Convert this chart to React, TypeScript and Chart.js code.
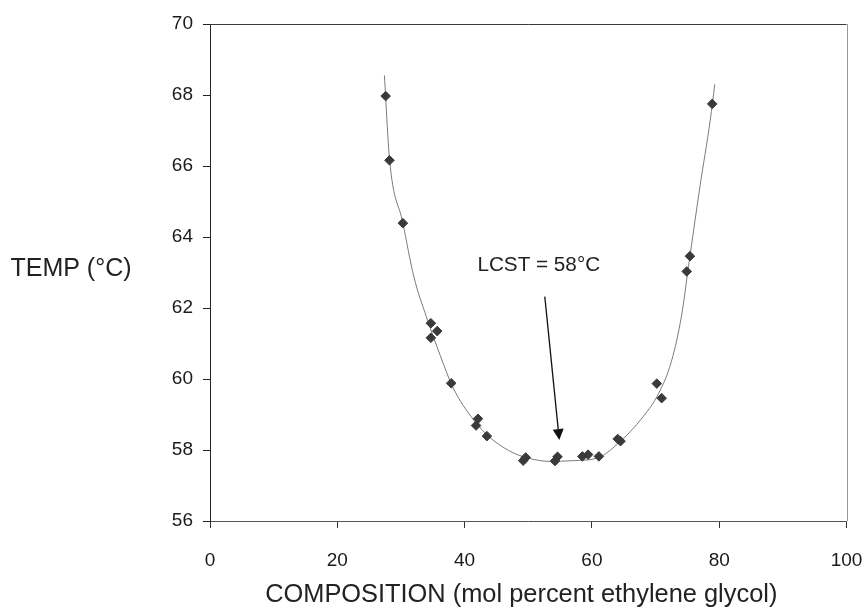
import React, { useEffect, useRef } from "react";
import { Chart, registerables } from "chart.js";

Chart.register(...registerables);

// ---- Data ----
const X_MIN = 0;
const X_MAX = 100;
const X_STEP = 20;
const Y_MIN = 56;
const Y_MAX = 70;
const Y_STEP = 2;

const X_TITLE = "COMPOSITION (mol percent ethylene glycol)";
const Y_TITLE = "TEMP (\u00B0C)";
const NOTE_TEXT = "LCST = 58\u00B0C";

// measured points: composition (mol %) and temperature (°C)
const compX = [
  27.6, 28.2, 30.3, 34.7, 35.7, 34.7, 37.9, 42.1, 41.8, 43.5, 49.6, 49.2,
  54.6, 54.2, 58.5, 59.4, 61.1, 64.05, 64.5, 70.2, 70.96, 74.9, 75.4, 78.9,
];
const tempY = [
  67.97, 66.16, 64.39, 61.57, 61.35, 61.16, 59.88, 58.88, 58.69, 58.39, 57.79,
  57.7, 57.81, 57.69, 57.82, 57.87, 57.82, 58.31, 58.25, 59.87, 59.46, 63.03,
  63.46, 67.75,
];

// fitted curve
const curveX = [
  27.4, 28.2, 30.3, 32.0, 34.0, 36.2, 38.2, 41.4, 44.0, 47.1, 49.8, 53.4, 57.1,
  60.8, 63.9, 68.1, 70.5, 72.5, 74.1, 75.2, 77.0, 78.6, 79.3,
];
const curveY = [
  68.55, 66.2, 64.4, 62.9, 61.75, 60.65, 59.75, 58.85, 58.35, 57.97, 57.78,
  57.68, 57.7, 57.77, 58.15, 58.95, 59.6, 60.5, 61.8, 63.2, 65.45, 67.3, 68.3,
];

// annotation (data coordinates)
const NOTE_POS = [51.65, 63.2];
const ARROW_FROM = [52.6, 62.32];
const ARROW_TO = [54.88, 58.28];

const FONT = "'Liberation Sans', Arial, Helvetica, sans-serif";

const pointsData = compX.map((x, i) => ({ x, y: tempY[i] }));
const curveData = curveX.map((x, i) => ({ x, y: curveY[i] }));

const decorPlugin = {
  id: "decor",
  afterDatasetsDraw(chart: any) {
    const { ctx, chartArea, scales } = chart;
    const xs = scales.x;
    const ys = scales.y;
    ctx.save();
    // frame: top and right borders
    ctx.lineWidth = 1;
    ctx.strokeStyle = "#3a3a3a";
    ctx.beginPath();
    ctx.moveTo(chartArea.left, Math.round(chartArea.top) + 0.5);
    ctx.lineTo(chartArea.right, Math.round(chartArea.top) + 0.5);
    ctx.stroke();
    ctx.strokeStyle = "#9a9a9a";
    ctx.beginPath();
    ctx.moveTo(Math.round(chartArea.right) + 0.5, chartArea.top);
    ctx.lineTo(Math.round(chartArea.right) + 0.5, chartArea.bottom);
    ctx.stroke();

    // annotation arrow
    const x1 = xs.getPixelForValue(ARROW_FROM[0]);
    const y1 = ys.getPixelForValue(ARROW_FROM[1]);
    const x2 = xs.getPixelForValue(ARROW_TO[0]);
    const y2 = ys.getPixelForValue(ARROW_TO[1]);
    const ang = Math.atan2(y2 - y1, x2 - x1);
    const headLen = 11;
    const headHalf = 5.5;
    const bx = x2 - Math.cos(ang) * headLen;
    const by = y2 - Math.sin(ang) * headLen;
    ctx.strokeStyle = "#111";
    ctx.lineWidth = 1.3;
    ctx.beginPath();
    ctx.moveTo(x1, y1);
    ctx.lineTo(bx, by);
    ctx.stroke();
    ctx.fillStyle = "#111";
    ctx.beginPath();
    ctx.moveTo(x2, y2);
    ctx.lineTo(bx + Math.sin(ang) * headHalf, by - Math.cos(ang) * headHalf);
    ctx.lineTo(bx - Math.sin(ang) * headHalf, by + Math.cos(ang) * headHalf);
    ctx.closePath();
    ctx.fill();

    // annotation text
    ctx.fillStyle = "#222";
    ctx.font = `20.7px ${FONT}`;
    ctx.textAlign = "center";
    ctx.textBaseline = "middle";
    ctx.fillText(
      NOTE_TEXT,
      xs.getPixelForValue(NOTE_POS[0]),
      ys.getPixelForValue(NOTE_POS[1])
    );

    // axis titles
    ctx.font = `25px ${FONT}`;
    ctx.fillStyle = "#222";
    ctx.textAlign = "center";
    ctx.fillText(Y_TITLE, 71, (chartArea.top + chartArea.bottom) / 2 - 3);
    ctx.font = `25.4px ${FONT}`;
    ctx.fillText(X_TITLE, (chartArea.left + chartArea.right) / 2 - 7, chartArea.bottom + 74);
    ctx.restore();
  },
};

export default function App() {
  const canvasRef = useRef<HTMLCanvasElement | null>(null);

  useEffect(() => {
    if (!canvasRef.current) return;
    const chart = new Chart(canvasRef.current, {
      type: "scatter",
      data: {
        datasets: [
          {
            label: "data",
            data: pointsData,
            showLine: false,
            pointStyle: "rectRot",
            pointRadius: 4.8,
            pointBackgroundColor: "#3a3a3a",
            pointBorderColor: "#3a3a3a",
            pointBorderWidth: 1,
            order: 0,
          },
          {
            label: "fit",
            data: curveData,
            showLine: true,
            pointRadius: 0,
            borderColor: "#7a7a7a",
            borderWidth: 1,
            cubicInterpolationMode: "monotone",
            fill: false,
            order: 1,
          },
        ],
      },
      options: {
        animation: false,
        responsive: false,
        layout: { padding: { top: 24, right: 17.5, left: 0, bottom: 0 } },
        plugins: {
          legend: { display: false },
          tooltip: { enabled: false },
          title: { display: false },
        },
        scales: {
          x: {
            type: "linear",
            min: X_MIN,
            max: X_MAX,
            afterFit: (s: any) => {
              s.height = 90;
              s.paddingRight = 0;
              s.paddingLeft = 0;
            },
            ticks: {
              stepSize: X_STEP,
              color: "#1a1a1a",
              font: { family: FONT, size: 19 },
              padding: 21,
              maxRotation: 0,
            },
            grid: {
              drawOnChartArea: false,
              drawTicks: true,
              tickLength: 7,
              color: "#333",
            },
            border: { color: "#555", width: 1 },
          },
          y: {
            type: "linear",
            min: Y_MIN,
            max: Y_MAX,
            afterFit: (s: any) => {
              s.width = 210;
              s.paddingTop = 0;
              s.paddingBottom = 0;
            },
            ticks: {
              stepSize: Y_STEP,
              color: "#1a1a1a",
              font: { family: FONT, size: 19 },
              padding: 10,
            },
            grid: {
              drawOnChartArea: false,
              drawTicks: true,
              tickLength: 7,
              color: "#222",
            },
            border: { color: "#222", width: 1 },
          },
        },
      },
      plugins: [decorPlugin],
    });
    return () => chart.destroy();
  }, []);

  return (
    <div style={{ position: "fixed", left: 0, top: 0, width: 864, height: 611, background: "#fff" }}>
      <canvas ref={canvasRef} width={864} height={611} style={{ display: "block" }} />
    </div>
  );
}
